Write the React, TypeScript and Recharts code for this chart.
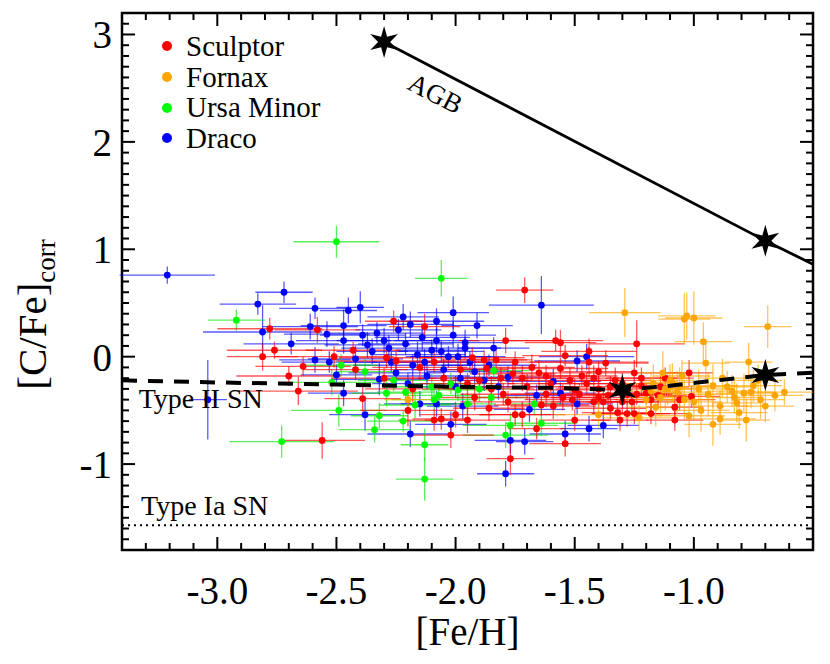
import React from 'react';
import {
  ComposedChart,
  Scatter,
  XAxis,
  YAxis,
  ErrorBar,
  ReferenceLine,
  ReferenceDot,
  ReferenceArea,
  Legend,
} from 'recharts';

// [Fe/H], [C/Fe]corr, error in [Fe/H], error in [C/Fe]
type Pt = [number, number, number, number];

const sculptor: Pt[] = [
  [-2.78, 0.26, 0.22, 0.1], [-2.76, 0.06, 0.2, 0.08], [-2.81, 0.0, 0.15, 0.13],
  [-2.58, 0.25, 0.18, 0.12], [-2.64, -0.09, 0.2, 0.09], [-2.7, -0.18, 0.22, 0.09],
  [-2.66, -0.32, 0.25, 0.13], [-2.56, -0.78, 0.18, 0.17], [-2.51, 0.0, 0.25, 0.1],
  [-2.43, 0.06, 0.2, 0.08], [-2.42, -0.12, 0.22, 0.1], [-2.39, -0.39, 0.16, 0.12],
  [-2.29, -0.01, 0.2, 0.1], [-2.26, 0.33, 0.12, 0.1], [-2.25, -0.04, 0.25, 0.1],
  [-2.2, -0.5, 0.2, 0.15], [-2.13, 0.28, 0.15, 0.12], [-2.09, -0.05, 0.2, 0.1],
  [-2.09, -0.59, 0.15, 0.1], [-2.06, -0.58, 0.12, 0.1], [-2.0, -0.54, 0.15, 0.12],
  [-2.02, -0.73, 0.18, 0.12], [-1.95, -0.59, 0.18, 0.12], [-1.93, -0.01, 0.22, 0.1],
  [-1.88, -0.03, 0.18, 0.09], [-1.86, -0.48, 0.15, 0.12], [-1.83, -0.03, 0.15, 0.09],
  [-1.87, -0.11, 0.12, 0.1], [-1.81, -0.2, 0.2, 0.1], [-1.79, 0.15, 0.2, 0.12],
  [-1.76, -0.16, 0.18, 0.1], [-1.72, -0.2, 0.22, 0.12], [-1.71, 0.62, 0.12, 0.12],
  [-1.75, -0.54, 0.15, 0.1], [-1.72, -0.54, 0.18, 0.12], [-1.77, -0.95, 0.1, 0.15],
  [-1.66, -0.67, 0.12, 0.1], [-1.65, -0.15, 0.22, 0.12], [-1.64, -0.45, 0.2, 0.1],
  [-1.59, -0.46, 0.18, 0.12], [-1.58, 0.15, 0.2, 0.1], [-1.56, 0.13, 0.15, 0.12],
  [-1.56, -0.11, 0.2, 0.1], [-1.54, 0.01, 0.18, 0.1], [-1.54, -0.81, 0.15, 0.12],
  [-1.51, -0.4, 0.2, 0.1], [-1.5, -0.59, 0.15, 0.1], [-1.44, 0.05, 0.2, 0.12],
  [-1.44, -0.05, 0.25, 0.14], [-1.42, -0.42, 0.18, 0.12], [-1.4, -0.14, 0.15, 0.1],
  [-1.37, -0.06, 0.18, 0.12], [-1.32, -0.52, 0.15, 0.1], [-1.31, -0.59, 0.12, 0.1],
  [-1.28, -0.53, 0.15, 0.12], [-1.25, -0.53, 0.15, 0.1], [-1.25, -0.15, 0.2, 0.12],
  [-1.24, 0.12, 0.2, 0.22], [-1.2, -0.34, 0.15, 0.1], [-1.18, -0.53, 0.15, 0.1],
  [-1.08, -0.59, 0.12, 0.1], [-1.08, -0.47, 0.12, 0.1], [-1.06, -0.4, 0.15, 0.1],
  [-1.02, -0.15, 0.1, 0.12], [-1.01, -0.37, 0.12, 0.1], [-1.45, -0.25, 0.2, 0.1],
  [-1.4, -0.3, 0.18, 0.12], [-1.35, -0.28, 0.22, 0.1], [-1.33, -0.22, 0.15, 0.12],
  [-1.28, -0.35, 0.18, 0.1], [-1.22, -0.27, 0.15, 0.1], [-1.15, -0.36, 0.12, 0.1],
  [-1.5, -0.31, 0.2, 0.1], [-1.6, -0.25, 0.18, 0.1], [-1.7, -0.28, 0.2, 0.12],
  [-1.38, -0.42, 0.2, 0.12], [-1.47, -0.18, 0.15, 0.1], [-1.62, -0.35, 0.15, 0.12],
  [-1.9, -0.22, 0.22, 0.1], [-1.98, -0.12, 0.2, 0.12], [-2.05, -0.2, 0.22, 0.1],
  [-2.15, -0.1, 0.2, 0.12], [-1.8, -0.35, 0.18, 0.1], [-1.35, -0.48, 0.15, 0.1],
  [-1.12, -0.2, 0.12, 0.1], [-1.95, -0.25, 0.2, 0.1], [-1.85, -0.3, 0.18, 0.12],
  [-1.75, -0.05, 0.2, 0.1], [-1.68, -0.1, 0.18, 0.12], [-1.62, -0.18, 0.2, 0.1],
  [-1.52, -0.22, 0.22, 0.12], [-1.48, -0.35, 0.2, 0.1], [-1.42, -0.2, 0.2, 0.12],
  [-1.36, -0.36, 0.18, 0.1], [-1.3, -0.25, 0.15, 0.1], [-1.26, -0.42, 0.18, 0.12],
  [-1.22, -0.2, 0.15, 0.1], [-1.18, -0.4, 0.15, 0.12], [-1.14, -0.28, 0.12, 0.1],
  [-1.4, -0.38, 0.2, 0.1], [-1.55, -0.38, 0.2, 0.12], [-1.78, -0.42, 0.2, 0.1],
  [-1.92, -0.38, 0.18, 0.12], [-2.3, -0.2, 0.22, 0.1], [-2.18, -0.3, 0.2, 0.12],
  [-1.3, -0.42, 0.15, 0.12], [-1.24, -0.35, 0.15, 0.1],
];

const fornax: Pt[] = [
  [-1.29, 0.41, 0.15, 0.23], [-1.04, 0.35, 0.11, 0.24], [-1.03, 0.38, 0.12, 0.22],
  [-1.0, 0.36, 0.12, 0.25], [-0.96, 0.14, 0.12, 0.18], [-0.95, -0.06, 0.1, 0.2],
  [-0.69, 0.28, 0.1, 0.2], [-0.77, -0.05, 0.1, 0.18], [-0.75, -0.27, 0.12, 0.15],
  [-0.79, -0.34, 0.12, 0.18], [-0.76, -0.33, 0.1, 0.15], [-0.62, -0.33, 0.12, 0.12],
  [-0.92, -0.27, 0.1, 0.2], [-0.83, -0.38, 0.12, 0.15], [-0.82, -0.43, 0.1, 0.18],
  [-0.89, -0.46, 0.12, 0.15], [-0.7, -0.46, 0.12, 0.15], [-0.81, -0.52, 0.12, 0.15],
  [-1.02, -0.55, 0.15, 0.2], [-0.89, -0.58, 0.15, 0.15], [-0.78, -0.59, 0.1, 0.2],
  [-0.92, -0.63, 0.12, 0.2], [-1.4, -0.54, 0.18, 0.12], [-1.23, -0.57, 0.15, 0.12],
  [-1.17, -0.25, 0.12, 0.18], [-1.12, -0.3, 0.12, 0.2], [-1.1, -0.22, 0.1, 0.15],
  [-1.14, -0.38, 0.12, 0.18], [-1.07, -0.33, 0.12, 0.2], [-1.16, -0.47, 0.12, 0.18],
  [-1.09, -0.24, 0.12, 0.18], [-1.11, -0.3, 0.1, 0.15], [-1.06, -0.28, 0.12, 0.18],
  [-1.04, -0.4, 0.12, 0.18], [-1.2, -0.4, 0.12, 0.15], [-0.98, -0.3, 0.12, 0.18],
  [-0.86, -0.28, 0.12, 0.15], [-0.72, -0.4, 0.1, 0.18], [-0.66, -0.36, 0.12, 0.15],
  [-2.2, -0.4, 0.1, 0.12], [-1.0, -0.42, 0.12, 0.18], [-0.94, -0.35, 0.12, 0.2],
  [-0.88, -0.2, 0.1, 0.18], [-1.05, -0.18, 0.12, 0.15], [-1.13, -0.15, 0.12, 0.2],
  [-0.84, -0.32, 0.1, 0.15], [-0.97, -0.5, 0.12, 0.2], [-0.73, -0.22, 0.1, 0.15],
  [-1.18, -0.32, 0.12, 0.18],
];

const ursaMinor: Pt[] = [
  [-2.92, 0.34, 0.12, 0.1], [-2.73, -0.79, 0.22, 0.15], [-2.5, 1.07, 0.18, 0.15],
  [-2.06, 0.73, 0.11, 0.17], [-2.48, -0.08, 0.15, 0.1], [-2.38, -0.14, 0.12, 0.12],
  [-2.52, -0.24, 0.2, 0.12], [-2.29, -0.34, 0.15, 0.12], [-2.21, -0.33, 0.12, 0.1],
  [-2.17, -0.45, 0.15, 0.12], [-2.09, -0.4, 0.18, 0.1], [-2.07, -0.36, 0.15, 0.12],
  [-1.99, -0.31, 0.15, 0.1], [-1.95, -0.44, 0.12, 0.1], [-2.49, -0.5, 0.2, 0.15],
  [-2.32, -0.55, 0.12, 0.12], [-2.22, -0.6, 0.15, 0.1], [-2.34, -0.68, 0.15, 0.12],
  [-2.13, -0.82, 0.1, 0.15], [-2.13, -1.14, 0.12, 0.2], [-1.84, -0.13, 0.15, 0.1],
  [-1.77, -0.64, 0.2, 0.12], [-1.67, -0.44, 0.12, 0.1], [-1.64, -0.62, 0.15, 0.12],
  [-1.79, -0.73, 0.18, 0.12], [-1.85, -0.38, 0.15, 0.1], [-2.02, -0.25, 0.18, 0.1],
  [-2.1, -0.28, 0.2, 0.12], [-2.26, -0.22, 0.15, 0.1], [-1.9, -0.3, 0.15, 0.12],
];

const draco: Pt[] = [
  [-3.21, 0.76, 0.2, 0.08], [-3.04, -0.4, 0.08, 0.37], [-2.83, 0.49, 0.16, 0.1],
  [-2.81, 0.23, 0.25, 0.25], [-2.72, 0.6, 0.12, 0.1], [-2.69, 0.12, 0.2, 0.1],
  [-2.61, 0.28, 0.2, 0.12], [-2.59, 0.45, 0.15, 0.1], [-2.59, -0.03, 0.15, 0.12],
  [-2.54, 0.21, 0.18, 0.12], [-2.53, -0.05, 0.2, 0.1], [-2.5, -0.17, 0.15, 0.1],
  [-2.47, 0.29, 0.18, 0.15], [-2.47, 0.15, 0.2, 0.12], [-2.47, -0.34, 0.15, 0.12],
  [-2.45, 0.43, 0.12, 0.12], [-2.4, 0.46, 0.1, 0.15], [-2.39, 0.2, 0.18, 0.1],
  [-2.38, -0.54, 0.15, 0.15], [-2.37, 0.11, 0.18, 0.12], [-2.35, 0.05, 0.15, 0.12],
  [-2.33, 0.22, 0.2, 0.1], [-2.32, -0.21, 0.2, 0.15], [-2.28, 0.08, 0.2, 0.12],
  [-2.22, 0.37, 0.15, 0.12], [-2.21, 0.12, 0.2, 0.1], [-2.19, 0.3, 0.18, 0.12],
  [-2.19, -0.72, 0.18, 0.12], [-2.18, -0.08, 0.25, 0.1], [-2.16, 0.02, 0.2, 0.12],
  [-2.15, -0.44, 0.15, 0.12], [-2.1, 0.06, 0.15, 0.1], [-2.08, 0.33, 0.2, 0.12],
  [-2.08, 0.15, 0.18, 0.12], [-2.08, -0.44, 0.15, 0.12], [-2.03, 0.0, 0.18, 0.1],
  [-2.02, -0.63, 0.15, 0.12], [-2.01, 0.41, 0.15, 0.15], [-2.01, 0.2, 0.18, 0.12],
  [-1.97, -0.46, 0.15, 0.12], [-1.96, 0.13, 0.18, 0.12], [-1.96, 0.08, 0.15, 0.1],
  [-1.91, 0.29, 0.15, 0.12], [-1.84, 0.08, 0.15, 0.1], [-1.79, -1.09, 0.12, 0.12],
  [-1.78, -0.19, 0.18, 0.1], [-1.77, -0.78, 0.15, 0.12], [-1.71, -0.79, 0.12, 0.12],
  [-1.69, -0.49, 0.15, 0.12], [-1.66, -0.36, 0.15, 0.1], [-1.64, 0.48, 0.22, 0.27],
  [-1.59, -0.23, 0.2, 0.12], [-1.56, -0.34, 0.15, 0.1], [-1.54, -0.72, 0.15, 0.12],
  [-1.49, -0.04, 0.18, 0.1], [-1.49, -0.44, 0.15, 0.1], [-1.45, 0.0, 0.2, 0.12],
  [-1.44, -0.67, 0.12, 0.12], [-1.38, -0.64, 0.15, 0.12], [-2.25, -0.15, 0.2, 0.1],
  [-2.12, -0.18, 0.18, 0.12], [-2.05, -0.12, 0.2, 0.1], [-1.98, -0.2, 0.18, 0.1],
  [-1.92, -0.14, 0.2, 0.12], [-1.88, -0.22, 0.15, 0.1], [-2.0, -0.28, 0.15, 0.1],
  [-2.3, 0.15, 0.2, 0.12], [-2.24, 0.25, 0.18, 0.1], [-2.14, 0.18, 0.2, 0.12],
  [-2.06, 0.05, 0.18, 0.1], [-1.99, 0.0, 0.2, 0.12], [-1.94, -0.05, 0.18, 0.1],
  [-2.42, -0.02, 0.2, 0.12], [-2.27, -0.05, 0.2, 0.1], [-2.13, -0.05, 0.22, 0.12],
  [-1.86, -0.08, 0.2, 0.1], [-1.82, -0.28, 0.18, 0.12], [-2.2, -0.25, 0.15, 0.1],
];

const galaxyNames = ['Sculptor', 'Fornax', 'Ursa Minor', 'Draco'];
const galaxyColors = ['#ff0000', '#ffa500', '#00ff00', '#0000ff'];
const barColors = ['rgba(255,0,0,0.65)', 'rgba(255,165,0,0.65)', 'rgba(0,230,0,0.65)', 'rgba(0,0,255,0.65)'];
const galaxyPoints = [sculptor, fornax, ursaMinor, draco];
const drawOrder = [3, 2, 0, 1];

// model curves: [Fe/H], [C/Fe]
const agbTrack = [[-2.3, 2.93], [-0.7, 1.08], [-0.5, 0.86]];
const agbStars = [[-2.3, 2.93], [-0.7, 1.08]];
const snIITrack = [
  [-3.4, -0.22], [-3.0, -0.24], [-2.5, -0.26], [-2.0, -0.28], [-1.6, -0.29],
  [-1.3, -0.31], [-1.1, -0.27], [-0.9, -0.22], [-0.7, -0.17], [-0.5, -0.15],
];
const snIIStars = [[-1.3, -0.31], [-0.7, -0.17]];
const snIaLevel = -1.57;

const xDomain: [number, number] = [-3.4, -0.5];
const yDomain: [number, number] = [-1.8, 3.2];
const xLabelTicks = [-3.0, -2.5, -2.0, -1.5, -1.0];
const xMinorTicks = Array.from({ length: 28 }, (_, i) => Math.round((-3.3 + i * 0.1) * 10) / 10);
const yLabelTicks = [-1, 0, 1, 2, 3];
const yMinorTicks = Array.from({ length: 49 }, (_, i) => Math.round((-1.7 + i * 0.1) * 10) / 10);

const W = 830;
const H = 664;
const MARGIN = { top: 13, right: 17, bottom: 54, left: 60 };

const FONT = 'Liberation Serif, serif';
const tickText = { fontFamily: FONT, fontSize: 39, fill: '#000' };

const toRows = (pts: number[][]) => pts.map(([x, y, ex, ey]) => ({ x, y, ex, ey }));

const dot = (color: string) => (p: any) => <circle cx={p.cx} cy={p.cy} r={3.4} fill={color} />;

const star = (p: any) => {
  const R = 16;
  const r = 6;
  const pts = Array.from({ length: 12 }, (_, i) => {
    const a = ((-90 + i * 30) * Math.PI) / 180;
    const rad = i % 2 === 0 ? R : r;
    return `${p.cx + rad * Math.cos(a)},${p.cy + rad * Math.sin(a)}`;
  }).join(' ');
  return <polygon points={pts} fill="#000" />;
};

const noMark = () => <g />;

// inward frame tick marks, placed on the frame edges through the chart scales
const isMajor = (v: number, step: number) => Math.abs(v / step - Math.round(v / step)) < 1e-6;
const frameTicks = [
  ...xMinorTicks.map((x) => ({ x, y: yDomain[0], side: 'bottom', major: isMajor(x, 0.5) })),
  ...xMinorTicks.map((x) => ({ x, y: yDomain[1], side: 'top', major: isMajor(x, 0.5) })),
  ...yMinorTicks.map((y) => ({ x: xDomain[0], y, side: 'left', major: isMajor(y, 1) })),
  ...yMinorTicks.map((y) => ({ x: xDomain[1], y, side: 'right', major: isMajor(y, 1) })),
];
const tickShape = (p: any) => {
  const { cx, cy, payload } = p;
  const len = payload.major ? 13 : 7;
  const dir: Record<string, [number, number]> = { bottom: [0, -1], top: [0, 1], left: [1, 0], right: [-1, 0] };
  const [dx, dy] = dir[payload.side];
  return <line x1={cx} y1={cy} x2={cx + dx * len} y2={cy + dy * len} stroke="#000" strokeWidth={2} />;
};

const LegendBox = () => (
  <div style={{ fontFamily: FONT, fontSize: 29, lineHeight: '30.7px', color: '#000' }}>
    {galaxyNames.map((name, i) => (
      <div key={name} style={{ display: 'flex', alignItems: 'center', height: 30.7 }}>
        <span
          style={{
            display: 'inline-block',
            width: 10,
            height: 10,
            borderRadius: 5,
            background: galaxyColors[i],
            marginRight: 14,
          }}
        />
        <span>{name}</span>
      </div>
    ))}
  </div>
);

const textLabel = (text: string, size: number) => (p: any) => (
  <text x={p.viewBox.x} y={p.viewBox.y} fontFamily={FONT} fontSize={size} fill="#000">
    {text}
  </text>
);

const agbLabel = (p: any) => (
  <text
    transform={`translate(${p.viewBox.x},${p.viewBox.y}) rotate(27.4)`}
    textAnchor="middle"
    dominantBaseline="central"
    fontFamily={FONT}
    fontSize={27}
    fill="#000"
  >
    AGB
  </text>
);

const xTitle = (p: any) => (
  <text
    x={p.viewBox.x + p.viewBox.width / 2}
    y={p.viewBox.y + 95}
    textAnchor="middle"
    fontFamily={FONT}
    fontSize={39}
    fill="#000"
  >
    [Fe/H]
  </text>
);

const yTitle = (p: any) => (
  <text
    transform={`translate(46,${p.viewBox.y + p.viewBox.height / 2 + 33}) rotate(-90)`}
    textAnchor="middle"
    fontFamily={FONT}
    fontSize={41}
    fill="#000"
  >
    [C/Fe]
    <tspan fontSize={27} dy={9}>corr</tspan>
  </text>
);

export default function App() {
  return (
    <div style={{ position: 'absolute', left: 0, top: 0, width: W, height: H, background: '#fff' }}>
      <ComposedChart width={W} height={H} margin={MARGIN}>
        <XAxis
          type="number"
          dataKey="x"
          domain={xDomain}
          allowDataOverflow
          ticks={xLabelTicks}
          interval={0}
          tickSize={0}
          tickMargin={26}
          axisLine={false}
          tickLine={false}
          tick={tickText}
          tickFormatter={(v: number) => v.toFixed(1)}
          height={60}
          label={{ content: xTitle }}
        />
        <YAxis
          type="number"
          dataKey="y"
          domain={yDomain}
          allowDataOverflow
          ticks={yLabelTicks}
          interval={0}
          tickSize={0}
          tickMargin={10}
          axisLine={false}
          tickLine={false}
          tick={tickText}
          width={62}
          label={{ content: yTitle }}
        />
        <Legend
          layout="vertical"
          align="center"
          verticalAlign="middle"
          content={LegendBox}
          wrapperStyle={{ left: 162, top: 31, width: 200 }}
        />
        {drawOrder.map((g) => (
          <Scatter
            key={galaxyNames[g]}
            name={galaxyNames[g]}
            data={toRows(galaxyPoints[g])}
            fill={galaxyColors[g]}
            shape={dot(galaxyColors[g])}
            isAnimationActive={false}
          >
            <ErrorBar dataKey="ex" direction="x" width={0} stroke={barColors[g]} strokeWidth={1.3} isAnimationActive={false} />
            <ErrorBar dataKey="ey" direction="y" width={0} stroke={barColors[g]} strokeWidth={1.3} isAnimationActive={false} />
          </Scatter>
        ))}
        <ReferenceLine y={snIaLevel} stroke="#000" strokeWidth={2} strokeDasharray="2 4" />
        <Scatter
          data={toRows(agbTrack)}
          line={{ stroke: '#000', strokeWidth: 2.8 }}
          shape={noMark}
          legendType="none"
          isAnimationActive={false}
        />
        <Scatter
          data={toRows(snIITrack)}
          line={{ stroke: '#000', strokeWidth: 4, strokeDasharray: '15 11' }}
          shape={noMark}
          legendType="none"
          isAnimationActive={false}
        />
        <Scatter data={toRows(agbStars)} shape={star} legendType="none" isAnimationActive={false} />
        <Scatter data={toRows(snIIStars)} shape={star} legendType="none" isAnimationActive={false} />
        <Scatter data={frameTicks} shape={tickShape} legendType="none" isAnimationActive={false} />
        <ReferenceDot x={-2.085} y={2.45} r={0} stroke="none" label={{ content: agbLabel }} />
        <ReferenceDot x={-3.33} y={-0.48} r={0} stroke="none" label={{ content: textLabel('Type II SN', 28) }} />
        <ReferenceDot x={-3.32} y={-1.47} r={0} stroke="none" label={{ content: textLabel('Type Ia SN', 28) }} />
        <ReferenceArea
          x1={xDomain[0]}
          x2={xDomain[1]}
          y1={yDomain[0]}
          y2={yDomain[1]}
          fill="none"
          stroke="#000"
          strokeWidth={2.5}
        />
      </ComposedChart>
    </div>
  );
}
